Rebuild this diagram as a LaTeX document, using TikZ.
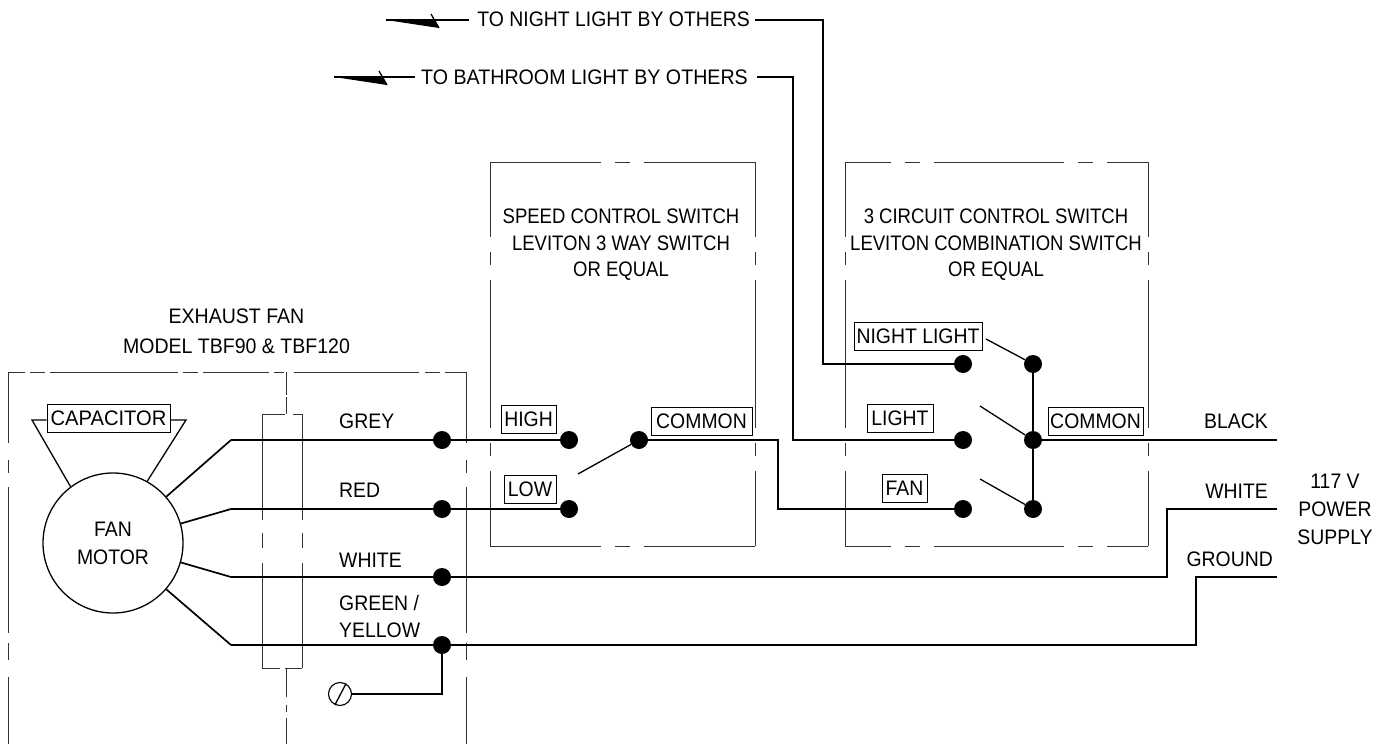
\documentclass[tikz,border=0pt]{standalone}
\usepackage{fontspec}
\setmainfont[FakeStretch=0.924]{Liberation Sans}
\newcommand{\stretched}[1]{\fontsize{21}{26.5}\fontspec[FakeStretch=#1]{Liberation Sans}}
\usepackage{tikz}
\usetikzlibrary{calc, positioning}

\begin{document}
\begin{tikzpicture}[
    x=1pt, y=-1pt,
    font=\fontsize{21}{28}\selectfont,
    dot/.style={circle, fill=black, inner sep=0pt, minimum size=18pt},
    tag/.style={draw, rectangle, inner sep=0pt, line width=0.9pt, minimum height=28pt},
    lbl/.style={inner sep=0pt, anchor=base west},
    lblr/.style={inner sep=0pt, anchor=base east},
    txt/.style={inner sep=0pt, align=center},
    wire/.style={draw, line width=2pt, line join=miter},
    arm/.style={draw, line width=1.3pt},
    lead/.style={draw, line width=1.7pt},
    box/.style={draw, black!80, line width=1pt},
    hside/.style={box, dash pattern=on 130pt off 14pt on 15pt off 14pt},
    vside/.style={box, dash pattern=on 148pt off 15pt on 13pt off 15pt, dash phase=73pt},
    breaktip/.pic={
        \fill (0,0) -- (53,8) -- (48.5,0) -- cycle;
        \draw[arm] (45,-6) -- (53,8);
    }
]
    \useasboundingbox (0,0) rectangle (1390,744);

    % Dashed boxes
    \draw[box, dash pattern=on 17pt off 5pt on 15pt off 5pt on 128pt off 5pt on 15pt off 5pt on 66pt off 5pt on 10pt off 10pt on 125pt off 6pt on 15pt off 5pt on 30pt] (8,372) -- (466,372);
    \draw[box, dash pattern=on 71pt off 17pt on 13pt off 14pt on 146pt off 10pt on 17pt off 17pt on 100pt] (8,372) -- (8,744);
    \draw[box, dash pattern=on 71pt off 17pt on 13pt off 14pt on 146pt off 10pt on 17pt off 17pt on 100pt] (466,372) -- (466,744);

    % Cable gland
    \draw[box, dash pattern=on 23pt off 2pt on 25pt off 3pt on 10pt] (286,372) -- (286,414);
    \draw[box, dash pattern=on 29pt off 8pt on 7pt off 6pt on 30pt] (286,668) -- (286,744);
    \draw[box, dash pattern=on 23pt off 8pt on 10pt] (262,414) -- (302,414);
    \draw[box, dash pattern=on 18pt off 5pt on 20pt] (262,668) -- (302,668);
    \draw[box, dash pattern=on 106pt off 13pt on 15pt off 15pt on 110pt] (262,414) -- (262,668);
    \draw[box, dash pattern=on 106pt off 13pt on 15pt off 15pt on 110pt] (302,414) -- (302,668);

    % Speed switch box
    \draw[hside, dash phase=19pt] (490,162) -- (755,162);
    \draw[hside, dash phase=19pt] (490,546) -- (755,546);
    \draw[vside] (490,162) -- (490,546);
    \draw[vside] (755,162) -- (755,546);

    % Circuit switch box
    \draw[hside, dash phase=84pt] (845,162) -- (1148,162);
    \draw[hside, dash phase=84pt] (845,546) -- (1148,546);
    \draw[vside] (845,162) -- (845,546);
    \draw[vside] (1148,162) -- (1148,546);

    % Nodes
    % Fan side
    \node (motor) [draw, circle, line width=1.3pt, inner sep=0pt, minimum size=140pt, align=center] at (113,543) {FAN\\MOTOR};
    \node (capacitor) [tag, minimum width=123pt, font=\stretched{0.96}] at (108.5,418) {CAPACITOR};
    \node (earth) [draw, circle, line width=1.1pt, inner sep=0pt, minimum size=23pt] at (340,694) {};
    \node (fantitle) [txt, font=\stretched{0.93}] at (236.5,331.25) {EXHAUST FAN\\[3.5pt]MODEL TBF90 \& TBF120};

    \node (dotgrey) [dot] at (442,440) {};
    \node (dotred) [dot, below of=dotgrey, node distance=69pt] {};
    \node (dotwhite) [dot, below of=dotred, node distance=68pt] {};
    \node (dotgreen) [dot, below of=dotwhite, node distance=68pt] {};

    \node (lblgrey) [lbl] at (339,428) {GREY};
    \node (lblred) [lbl] at (339,497) {RED};
    \node (lblwhite) [lbl] at (339,567) {WHITE};
    \node (lblgreen) [lbl] at (339,610) {GREEN /};
    \node (lblyellow) [lbl] at (339,637) {YELLOW};

    % Speed switch
    \node (dothigh) [dot] at (569,440) {};
    \node (dotlow) [dot, below of=dothigh, node distance=69pt] {};
    \node (dotcommon) [dot, right of=dothigh, node distance=70pt] {};
    \node (taghigh) [tag, minimum width=55pt] at (528.5,419) {HIGH};
    \node (taglow) [tag, minimum width=52pt] at (530,489) {LOW};
    \node (tagcommon) [tag, minimum width=101pt] at (701.5,421) {COMMON};
    \node (speedtitle) [txt, font=\stretched{0.882}] at (621,245) {SPEED CONTROL SWITCH\\LEVITON 3 WAY SWITCH\\OR EQUAL};

    % Circuit switch
    \node (dotnight) [dot] at (963,364) {};
    \node (dotlight) [dot, below of=dotnight, node distance=76pt] {};
    \node (dotfan) [dot, below of=dotlight, node distance=69pt] {};
    \node (dotcnight) [dot, right of=dotnight, node distance=70pt] {};
    \node (dotclight) [dot, right of=dotlight, node distance=70pt] {};
    \node (dotcfan) [dot, right of=dotfan, node distance=70pt] {};
    \node (tagnight) [tag, minimum width=128pt] at (918,336.5) {NIGHT LIGHT};
    \node (taglight) [tag, minimum width=66pt] at (900,418) {LIGHT};
    \node (tagfan) [tag, minimum width=45pt] at (904.5,488) {FAN};
    \node (tagcommonb) [tag, minimum width=95pt] at (1095.5,421) {COMMON};
    \node (circuittitle) [txt, font=\stretched{0.882}] at (996,245) {3 CIRCUIT CONTROL SWITCH\\LEVITON COMBINATION SWITCH\\OR EQUAL};

    % Supply side
    \node (lblblack) [lblr] at (1268,428) {BLACK};
    \node (lblsupwhite) [lblr] at (1268,498) {WHITE};
    \node (lblground) [lblr] at (1273,566) {GROUND};
    \node (supply) [txt] at (1335,509) {117 V\\POWER\\SUPPLY};

    % Top labels
    \node (lblnight) [inner sep=0pt, anchor=base east] at (750,27) {TO NIGHT LIGHT BY OTHERS};
    \node (lblbath) [inner sep=0pt, anchor=base east, font=\stretched{0.935}] at (748,84) {TO BATHROOM LIGHT BY OTHERS};

    % Free ends
    \coordinate (capleft) at (32,420);
    \coordinate (capright) at (186,420);
    \coordinate (greybend) at (231,440);
    \coordinate (redbend) at (231,509);
    \coordinate (whitebend) at (231,577);
    \coordinate (greenbend) at (231,645);
    \coordinate (commonbend) at (778,440);
    \coordinate (lightbend) at (793,77);
    \coordinate (lightend) at (757,77);
    \coordinate (nightbend) at (823,20);
    \coordinate (nightend) at (755,20);
    \coordinate (blackend) at (1277,440);
    \coordinate (supwhitebend) at (1167,577);
    \coordinate (supwhiteend) at (1277,508.5);
    \coordinate (groundbend) at (1196,645);
    \coordinate (groundend) at (1277,577);
    \coordinate (nightwire) at (469,20);
    \coordinate (bathwire) at (415,77);
    \coordinate (nighttip) at (386,20);
    \coordinate (bathtip) at (334,77);

    % Connections
    % Capacitor
    \draw[arm] (motor.127) -- (capleft) -- (capleft -| capacitor.west);
    \draw[arm] (motor.61) -- (capright) -- (capright -| capacitor.east);

    % Motor leads
    \draw[lead] (motor.41) -- (greybend);
    \draw[lead] (motor.16) -- (redbend);
    \draw[lead] (motor.-16) -- (whitebend);
    \draw[lead] (motor.-41) -- (greenbend);
    \draw[wire] (greybend) -- (dothigh);
    \draw[wire] (redbend) -- (dotlow);
    \draw[wire] (whitebend) -- (supwhitebend) |- (supwhiteend);
    \draw[wire] (greenbend) -- (groundbend) |- (groundend);

    % Ground symbol
    \draw[wire] (dotgreen) |- (earth);
    \draw[arm] (earth.-115) -- (earth.60);

    % Speed switch
    \draw[arm] (dotcommon) -- ++(-61,34);
    \draw[wire] (dotcommon) -- (commonbend) |- (dotfan);

    % Circuit switch
    \draw[wire] (dotlight) -| (lightbend) -- (lightend);
    \draw[wire] (dotnight) -| (nightbend) -- (nightend);
    \draw[lead] (dotcnight) -- (dotclight);
    \draw[lead] (dotclight) -- (dotcfan);
    \draw[arm] (dotcnight) -- ++(-47,-25);
    \draw[arm] (dotclight) -- ++(-53,-34);
    \draw[arm] (dotcfan) -- ++(-53,-30);
    \draw[wire] (dotclight) -- (blackend);

    % Top arrows
    \draw[arm] (nightwire) -- (nighttip);
    \draw[arm] (bathwire) -- (bathtip);
    \pic at (nighttip) {breaktip};
    \pic at (bathtip) {breaktip};

\end{tikzpicture}
\end{document}
